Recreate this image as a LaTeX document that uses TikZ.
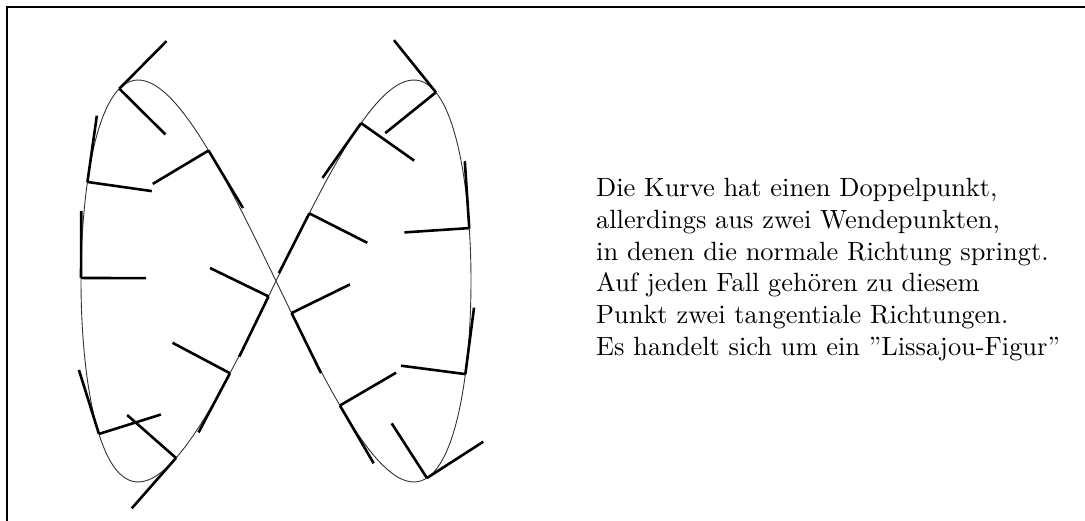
\documentclass[tikz,border=0pt]{standalone}
\usepackage{fontspec}
\setmainfont{lmroman10-regular}[Extension=.otf, Ligatures=TeX]
\begin{document}
\begin{tikzpicture}[x=1pt,y=-1pt,
  curve/.style={line width=0.9pt, black!80},
  tick/.style={line width=2.6pt, line cap=butt},
  frame/.style={line width=2pt},
  txt/.style={anchor=base west, inner sep=0pt, font=\fontsize{26.4pt}{31.7pt}\selectfont}]
\useasboundingbox (0,0) rectangle (1085,521);
% frame (top and left)
\coordinate (fbl) at (7,521);
\coordinate (ftl) at (7,7);
\coordinate (ftr) at (1085,7);
\draw[frame] (fbl) -- (ftl) -- (ftr);
% Lissajous curve
\draw[curve] plot[domain=0:360, samples=240, smooth, variable=\a] ({276+195*sin(\a)}, {281+201*sin(2*\a)});
% tangential and normal segments
\foreach \t [count=\i] in {0.08,0.334,0.885,1.33,1.704,2.18,2.69,2.97,3.18,3.38,3.68,4.28,4.72,4.97,5.35,5.93}{
  \pgfmathsetmacro\ang{\t*57.29578}
  \pgfmathsetmacro\px{276+195*sin(\ang)}
  \pgfmathsetmacro\py{281+201*sin(2*\ang)}
  \pgfmathsetmacro\dx{1.95*cos(\ang)}
  \pgfmathsetmacro\dy{4.02*cos(2*\ang)}
  \pgfmathsetmacro\ddx{-1.95*sin(\ang)}
  \pgfmathsetmacro\ddy{-8.04*sin(2*\ang)}
  \pgfmathsetmacro\vl{veclen(\dx,\dy)}
  \pgfmathsetmacro\kk{\dx*\ddy-\dy*\ddx}
  \pgfmathsetmacro\sg{ifthenelse(\kk>0,1,-1)}
  \coordinate (p\i) at (\px,\py);
  \coordinate (t\i) at ({\px+67*\dx/\vl},{\py+67*\dy/\vl});
  \coordinate (n\i) at ({\px-\sg*65*\dy/\vl},{\py+\sg*65*\dx/\vl});
  \draw[tick] (p\i) -- (t\i);
  \draw[tick] (p\i) -- (n\i);
}
% text
\node[txt] (l1) at (596,196.7) {Die Kurve hat einen Doppelpunkt,};
\node[txt] (l2) at (596,228.4) {allerdings aus zwei Wendepunkten,};
\node[txt] (l3) at (596,260.1) {in denen die normale Richtung springt.};
\node[txt] (l4) at (596,291.8) {Auf jeden Fall gehören zu diesem};
\node[txt] (l5) at (596,323.5) {Punkt zwei tangentiale Richtungen.};
\node[txt] (l6) at (596,355.2) {Es handelt sich um ein ''Lissajou-Figur''};
\end{tikzpicture}
\end{document}
